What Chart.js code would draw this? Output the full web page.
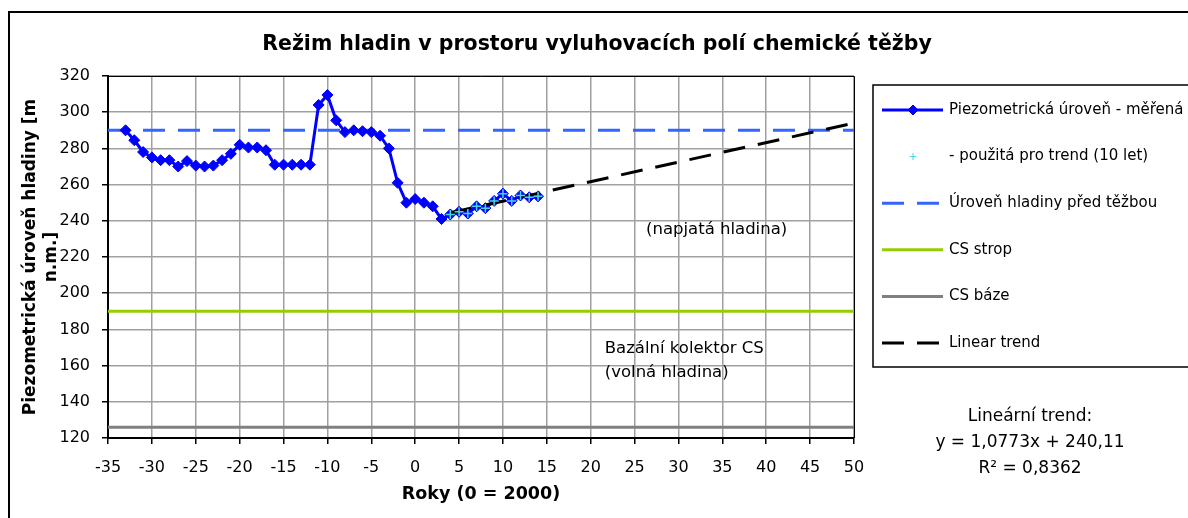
<!DOCTYPE html>
<html>
<head>
<meta charset="utf-8">
<script src="https://cdn.jsdelivr.net/npm/chart.js@4/dist/chart.umd.min.js"></script>
<style>
  body { margin: 0; background: #fff; }
  canvas { display: block; }
</style>
</head>
<body>
<canvas id="chart" width="1188" height="518"></canvas>
<script>
// roky (0 = 2000) a měřené úrovně hladiny [m n.m.]
const years = [-33, -32, -31, -30, -29, -28, -27, -26, -25, -24, -23, -22, -21, -20, -19, -18, -17,
  -16, -15, -14, -13, -12, -11, -10, -9, -8, -7, -6, -5, -4, -3, -2, -1, 0, 1, 2, 3,
  4, 5, 6, 7, 8, 9, 10, 11, 12, 13, 14];
const levels = [290, 284.5, 278, 275, 273.5, 273.5, 270, 273, 270.5, 270, 270.5, 273.5, 277, 282, 280.5, 280.5, 279,
  271, 271, 271, 271, 271, 304, 309.5, 295.5, 289, 290, 289.5, 289, 287, 280, 261, 250, 252, 250, 248, 241,
  243.5, 245, 244, 248, 247, 251, 255, 251, 254, 253, 253.5];

// body použité pro trend (10 let)
const trendYears = [4, 5, 6, 7, 8, 9, 10, 11, 12, 13, 14];
const trendLevels = [243.5, 245, 244, 248, 247, 251, 255, 251, 254, 253, 253.5];

// lineární trend - koncové body
const trendLineYears = [4, 50];
const trendLineLevels = [244.4, 294.0];

// vodorovné úrovně
const spanYears = [-35, 50];
const preMiningLevel = 290;
const csTopLevel = 190;
const csBaseLevel = 126;

const xMin = -35, xMax = 50, xStep = 5;
const yMin = 120, yMax = 320, yStep = 20;

const FONT = 'DejaVu Sans';

function pts(xs, ys) {
  return xs.map((x, i) => ({ x: x, y: ys[i] }));
}
function flat(level) {
  return spanYears.map(x => ({ x: x, y: level }));
}

// bílé pozadí, rámeček celého grafu a nadpis
const frame = {
  id: 'frame',
  beforeDraw(chart) {
    const ctx = chart.ctx;
    ctx.save();
    ctx.fillStyle = '#fff';
    ctx.fillRect(0, 0, chart.width, chart.height);
    ctx.strokeStyle = '#000';
    ctx.lineWidth = 2;
    ctx.beginPath();
    ctx.moveTo(9, chart.height + 5);
    ctx.lineTo(9, 12);
    ctx.lineTo(chart.width + 5, 12);
    ctx.stroke();
    ctx.fillStyle = '#000';
    ctx.font = 'bold 20.5px "' + FONT + '"';
    ctx.textAlign = 'center';
    ctx.textBaseline = 'middle';
    ctx.fillText('Režim hladin v prostoru vyluhovacích polí chemické těžby', 597, 45);
    ctx.restore();
  },
  afterDraw(chart) {
    const ctx = chart.ctx;
    const a = chart.chartArea;
    ctx.save();
    ctx.strokeStyle = '#000';
    ctx.lineWidth = 1;
    ctx.beginPath();
    ctx.moveTo(a.left, a.top + 0.5);
    ctx.lineTo(a.right + 0.5, a.top + 0.5);
    ctx.lineTo(a.right + 0.5, a.bottom);
    ctx.stroke();
    ctx.restore();
  }
};

// popisky v ploše grafu a rovnice trendu
const notes = {
  id: 'notes',
  afterDraw(chart) {
    const ctx = chart.ctx;
    const xs = chart.scales.x, ys = chart.scales.y;
    ctx.save();
    ctx.fillStyle = '#000';
    ctx.font = '16.5px "' + FONT + '"';
    ctx.textBaseline = 'middle';
    ctx.textAlign = 'left';
    ctx.fillText('(napjatá hladina)', xs.getPixelForValue(26.3), ys.getPixelForValue(234.8));
    ctx.fillText('Bazální kolektor CS', xs.getPixelForValue(21.6), ys.getPixelForValue(169.5));
    ctx.fillText('(volná hladina)', xs.getPixelForValue(21.6), ys.getPixelForValue(155.8));

    ctx.font = '17px "' + FONT + '"';
    ctx.textAlign = 'center';
    ctx.fillText('Lineární trend:', 1030, 417);
    ctx.fillText('y = 1,0773x + 240,11', 1030, 443);
    ctx.fillText('R² = 0,8362', 1030, 469);
    ctx.restore();
  }
};

// legenda s rámečkem vpravo
const boxLegend = {
  id: 'boxLegend',
  afterDraw(chart) {
    const ctx = chart.ctx;
    ctx.save();
    ctx.strokeStyle = '#000';
    ctx.lineWidth = 1.5;
    ctx.strokeRect(873, 85, 340, 282);
    ctx.font = '15px "' + FONT + '"';
    ctx.textBaseline = 'middle';
    ctx.textAlign = 'left';
    chart.data.datasets.forEach((ds, i) => {
      const y = 110 + i * 46.6;
      if (ds.showLine !== false) {
        ctx.strokeStyle = ds.borderColor;
        ctx.lineWidth = ds.borderWidth;
        ctx.setLineDash(ds.borderDash || []);
        ctx.beginPath();
        ctx.moveTo(882, y);
        ctx.lineTo(943, y);
        ctx.stroke();
        ctx.setLineDash([]);
      }
      if (ds.pointRadius > 0) {
        const r = ds.showLine === false ? 3.5 : 5;
        ctx.strokeStyle = ds.pointBorderColor;
        ctx.fillStyle = ds.pointBackgroundColor;
        ctx.lineWidth = 1;
        ctx.beginPath();
        if (ds.pointStyle === 'cross') {
          ctx.moveTo(913 - r, y); ctx.lineTo(913 + r, y);
          ctx.moveTo(913, y - r); ctx.lineTo(913, y + r);
          ctx.stroke();
        } else {
          ctx.moveTo(913 - r, y); ctx.lineTo(913, y - r);
          ctx.lineTo(913 + r, y); ctx.lineTo(913, y + r);
          ctx.closePath();
          ctx.fill();
          ctx.stroke();
        }
      }
      ctx.fillStyle = '#000';
      ctx.fillText(ds.label, 949, y);
    });
    ctx.restore();
  }
};

new Chart(document.getElementById('chart'), {
  type: 'line',
  data: {
    datasets: [
      {
        label: 'Piezometrická úroveň - měřená',
        data: pts(years, levels),
        borderColor: '#0000ff',
        borderWidth: 3,
        pointStyle: 'rectRot',
        pointRadius: 5.5,
        pointBackgroundColor: '#0000ff',
        pointBorderColor: '#0000ff',
        pointBorderWidth: 1,
        order: 2
      },
      {
        label: '- použitá pro trend (10 let)',
        data: pts(trendYears, trendLevels),
        showLine: false,
        borderColor: '#33cccc',
        pointStyle: 'cross',
        pointRadius: 4.5,
        pointBackgroundColor: '#33cccc',
        pointBorderColor: '#40d8e0',
        pointBorderWidth: 1.5,
        order: 0
      },
      {
        label: 'Úroveň hladiny před těžbou',
        data: flat(preMiningLevel),
        borderColor: '#3366ff',
        borderWidth: 3,
        borderDash: [22, 13],
        pointRadius: 0,
        order: 4
      },
      {
        label: 'CS strop',
        data: flat(csTopLevel),
        borderColor: '#99cc00',
        borderWidth: 3,
        pointRadius: 0,
        order: 5
      },
      {
        label: 'CS báze',
        data: flat(csBaseLevel),
        borderColor: '#808080',
        borderWidth: 3,
        pointRadius: 0,
        order: 6
      },
      {
        label: 'Linear trend',
        data: pts(trendLineYears, trendLineLevels),
        borderColor: '#000000',
        borderWidth: 3,
        borderDash: [22, 13],
        pointRadius: 0,
        order: 1
      }
    ]
  },
  options: {
    responsive: false,
    animation: false,
    devicePixelRatio: 1,
    layout: { padding: { left: 0, right: 334, top: 76, bottom: 0 } },
    plugins: {
      legend: { display: false },
      tooltip: { enabled: false },
      title: { display: false }
    },
    scales: {
      x: {
        type: 'linear',
        min: xMin,
        max: xMax,
        afterFit(scale) { scale.height = 80; },
        ticks: {
          stepSize: xStep,
          color: '#000',
          padding: 14,
          maxRotation: 0,
          font: { family: FONT, size: 16 }
        },
        grid: { color: '#a0a0a0', lineWidth: 1.5, tickLength: 6, tickColor: '#000', tickWidth: 1.5 },
        border: { color: '#000', width: 2 },
        title: {
          display: true,
          text: 'Roky (0 = 2000)',
          color: '#000',
          font: { family: FONT, size: 17.5, weight: 'bold' },
          padding: { top: 0, bottom: 13 }
        }
      },
      y: {
        min: yMin,
        max: yMax,
        afterFit(scale) { scale.width = 108; },
        ticks: {
          stepSize: yStep,
          color: '#000',
          padding: 12,
          font: { family: FONT, size: 16 }
        },
        grid: { color: '#a0a0a0', lineWidth: 1.5, tickLength: 6, tickColor: '#000', tickWidth: 1.5 },
        border: { color: '#000', width: 2 },
        title: {
          display: true,
          text: ['Piezometrická úroveň hladiny [m', 'n.m.]'],
          color: '#000',
          font: { family: FONT, size: 17, weight: 'bold', lineHeight: 1.25 },
          padding: { top: 20, bottom: 0 }
        }
      }
    }
  },
  plugins: [frame, notes, boxLegend]
});
</script>
</body>
</html>
